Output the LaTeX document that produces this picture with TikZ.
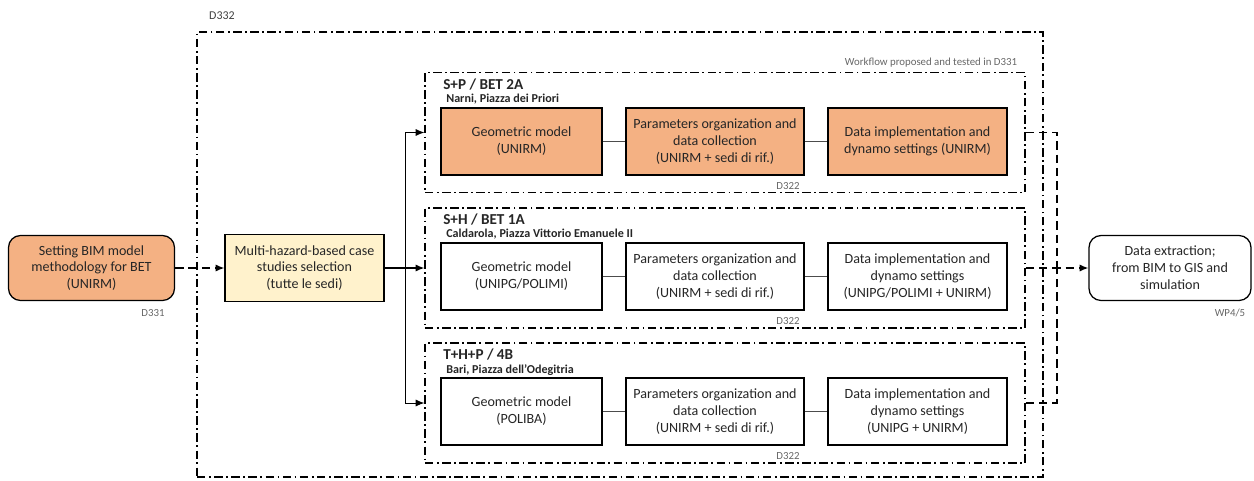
\documentclass[tikz,border=0pt]{standalone}
\usepackage{fontspec}
\setmainfont{Carlito}
\usetikzlibrary{arrows.meta,positioning}
\definecolor{bimorange}{HTML}{F4B183}
\definecolor{bimyellow}{HTML}{FFF2CC}

\begin{document}
\begin{tikzpicture}[x=0.25mm, y=-0.25mm, >={Latex[length=2.2mm,width=1.8mm]},
task/.style={draw, line width=0.9pt, fill=white, minimum height=16.75mm, align=center, text=black!85, font=\fontsize{10}{12}\selectfont},
hotbox/.style={task, fill=bimorange},
endbox/.style={task, rounded corners=3mm, minimum width=41.5mm, minimum height=16.25mm},
casebox/.style={draw, line width=0.9pt, dash pattern=on 6pt off 2.5pt on 1.2pt off 2.5pt, minimum width=150mm, minimum height=30mm},
tagnote/.style={font=\fontsize{7.7}{9}\selectfont, text=black!60},
casetitle/.style={anchor=west, inner sep=0pt, text=black!85, font=\fontsize{10.8}{12}\selectfont\bfseries},
casesite/.style={anchor=west, inner sep=0pt, text=black!85, font=\fontsize{8.6}{10}\selectfont\bfseries},
linkline/.style={draw, black!70, line width=0.5pt},
flowline/.style={line width=0.9pt, dash pattern=on 6pt off 3.5pt}]
\useasboundingbox (0,0) rectangle (1254,480);

\node[casebox, minimum width=211.5mm, minimum height=111.25mm] (d332) at (620,254.5) {};
\node[tagnote, text=black!75, font=\fontsize{8.5}{9}\selectfont] (d332lab) at (222,16) {D332};
\node[tagnote, anchor=east] (wfnote) at (1022,63) {Workflow proposed and tested in D331};

\node[casebox] (sp) at (725,132.5) {};
\node[casebox] (sh) at (725,268) {};
\node[casebox] (thp) at (725,403) {};

\node[casetitle] (sptitle) at (443,85) {S+P / BET 2A};
\node[casesite] (spsite) at (446,99) {Narni, Piazza dei Priori};
\node[casetitle] (shtitle) at (443,220) {S+H / BET 1A};
\node[casesite] (shsite) at (446,234) {Caldarola, Piazza Vittorio Emanuele II};
\node[casetitle] (thptitle) at (443,355) {T+H+P / 4B};
\node[casesite] (thpsite) at (446,370) {Bari, Piazza dell’Odegitria};

\node[hotbox, minimum width=40.25mm] (spgeo) at (521.5,141.5) {Geometric model\\(UNIRM)};
\node[hotbox, minimum width=44.5mm] (sppar) at (715,141.5) {Parameters organization and\\data collection\\(UNIRM + sedi di rif.)};
\node[hotbox, minimum width=44.75mm] (spdat) at (917.5,141.5) {Data implementation and\\dynamo settings (UNIRM)};

\node[task, minimum width=40.25mm] (shgeo) at (521.5,276.5) {Geometric model\\(UNIPG/POLIMI)};
\node[task, minimum width=44.5mm] (shpar) at (715,276.5) {Parameters organization and\\data collection\\(UNIRM + sedi di rif.)};
\node[task, minimum width=44.75mm] (shdat) at (917.5,276.5) {Data implementation and\\dynamo settings\\(UNIPG/POLIMI + UNIRM)};

\node[task, minimum width=40.25mm] (thpgeo) at (521.5,411.5) {Geometric model\\(POLIBA)};
\node[task, minimum width=44.5mm] (thppar) at (715,411.5) {Parameters organization and\\data collection\\(UNIRM + sedi di rif.)};
\node[task, minimum width=44.75mm] (thpdat) at (917.5,411.5) {Data implementation and\\dynamo settings\\(UNIPG + UNIRM)};

\node[tagnote] (sptag) at (788,186) {D322};
\node[tagnote] (shtag) at (788,321) {D322};
\node[tagnote] (thptag) at (788,456) {D322};

\node[endbox, fill=bimorange] (setbim) at (91.5,268) {Setting BIM model\\methodology for BET\\(UNIRM)};
\node[tagnote] (setbimtag) at (153,313) {D331};
\node[task, fill=bimyellow, minimum width=39.75mm] (multi) at (304.5,268) {Multi-hazard-based case\\studies selection\\(tutte le sedi)};
\node[endbox, minimum width=40.5mm] (extr) at (1170,268) {Data extraction;\\from BIM to GIS and\\simulation};
\node[tagnote] (extrtag) at (1230,313) {WP4/5};

\coordinate (busL) at (405,268);
\coordinate (busR) at (1057,268);

\draw[->, flowline] (setbim) -- (multi);
\draw[->, line width=0.9pt] (multi) -- (sh.west);
\draw[->, line width=0.7pt] (busL) |- (sp.west);
\draw[->, line width=0.7pt] (busL) |- (thp.west);
\draw[flowline] (sp.east) -| (busR);
\draw[flowline] (thp.east) -| (busR);
\draw[->, flowline] (sh.east) -- (extr);

\draw[linkline] (spgeo) -- (sppar);
\draw[linkline] (sppar) -- (spdat);
\draw[linkline] (shgeo) -- (shpar);
\draw[linkline] (shpar) -- (shdat);
\draw[linkline] (thpgeo) -- (thppar);
\draw[linkline] (thppar) -- (thpdat);
\end{tikzpicture}
\end{document}
